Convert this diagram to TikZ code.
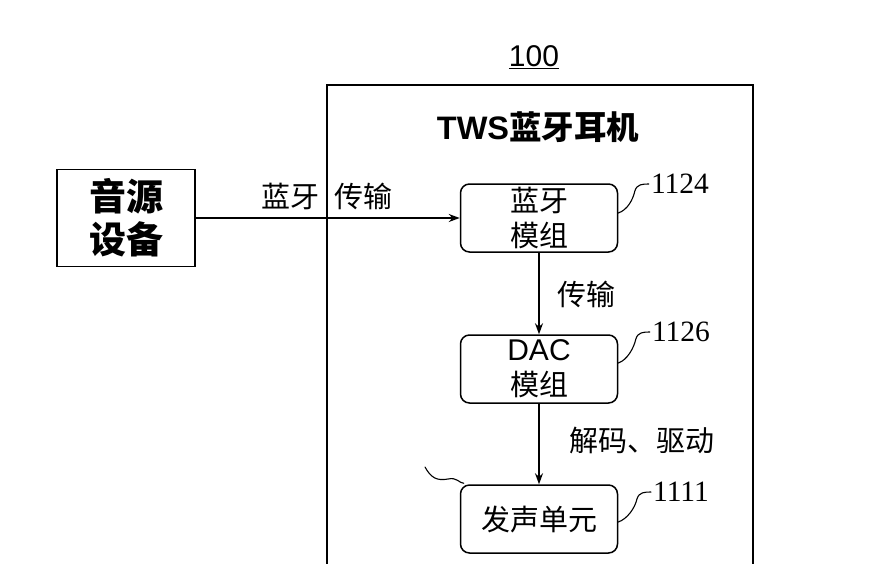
\documentclass[tikz,border=0pt]{standalone}
\usepackage{fontspec}
\setmainfont{Liberation Sans}
\newfontfamily\cjk{Noto Sans CJK SC}
\newfontfamily\serifnum{Liberation Serif}
\usetikzlibrary{arrows.meta,calc}
\begin{document}
\begin{tikzpicture}[x=1pt,y=-1pt,
  line cap=round,
  box/.style={draw, line width=1.5pt, rounded corners=9pt, minimum width=157pt, minimum height=68pt, inner sep=0pt, align=center, font=\cjk\fontsize{29}{35}\selectfont},
  lbl/.style={font=\cjk\fontsize{29}{30}\selectfont, inner sep=0pt},
  num/.style={font=\serifnum\fontsize{29.5}{30}\selectfont, inner sep=0pt},
  arr/.style={line width=1.5pt, -{Stealth[length=11pt,width=8pt]}},
  sq/.style={line width=1.1pt}]
\useasboundingbox (0,0) rectangle (885,563);
% container
\node[draw, line width=1.5pt, minimum width=426pt, minimum height=560pt, inner sep=0pt] (tws) at (540,365) {};
\node[font=\fontsize{30}{32}\selectfont, inner sep=0pt] (ref) at (534,57) {\underline{100}};
\node[font=\bfseries\fontsize{32.5}{34}\selectfont, inner sep=0pt] (title) at (538,127) {TWS\cjk 蓝牙耳机};
% source
\node[draw, line width=1.5pt, minimum width=138pt, minimum height=97pt, inner sep=0pt, align=center, font=\cjk\bfseries\fontsize{37}{43}\selectfont] (src) at (126,218) {音源\\设备};
% modules
\node[box] (bt) at (539,218) {蓝牙\\模组};
\node[box] (dac) at (539,369) {{\rmfamily\fontsize{30}{35}\selectfont DAC}\\模组};
\node[box] (spk) at (539,519) {发声单元};
% arrows
\draw[arr] (src.east) -- (src.east -| bt.west);
\node[lbl] (l1) at (290,196) {蓝牙};
\node[lbl] (l2) at (363,196) {传输};
\draw[arr] (bt.south) -- (dac.north);
\node[lbl] (l3) at (586,294) {传输};
\draw[arr] (dac.south) -- (spk.north);
\node[lbl] (l4) at (642,440) {解码、驱动};
% reference numbers
\node[num] (n1124) at (680,184) {1124};
\node[num] (n1126) at (681,332) {1126};
\node[num] (n1111) at (681,492) {1111};
\draw[sq] ([yshift=5pt]bt.east) .. controls +(9,-3) and +(-2,9) .. ($(n1124.west)+(-16,7)$) .. controls +(2,-7) and +(-6,0) .. ([xshift=-2pt]n1124.west);
\draw[sq] ([yshift=6pt]dac.east) .. controls +(9,-3) and +(-2,9) .. ($(n1126.west)+(-16,7)$) .. controls +(2,-7) and +(-6,0) .. ([xshift=-2pt]n1126.west);
\draw[sq] ([yshift=-3pt]spk.east) .. controls +(9,-3) and +(-2,9) .. ($(n1111.west)+(-16,7)$) .. controls +(2,-7) and +(-6,0) .. ([xshift=-2pt]n1111.west);
\coordinate (lf) at (425,467);
\draw[sq] (lf) .. controls (431,478) and (437,481) .. (448,479) .. controls (457,477) and (459,483) .. ([shift={(4,-1)}]spk.north west);
\end{tikzpicture}
\end{document}
